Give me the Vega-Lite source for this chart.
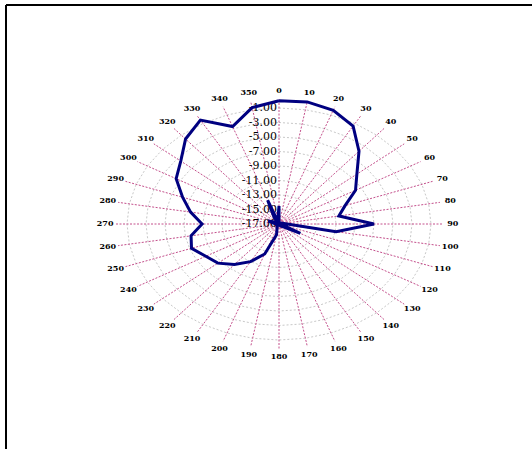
{
  "$schema": "https://vega.github.io/schema/vega-lite/v6.json",
  "width": 526,
  "height": 444,
  "autosize": {"type": "none"},
  "padding": {"left": 6, "top": 5, "right": 0, "bottom": 0},
  "background": "white",
  "config": {"view": {"stroke": null}},
  "datasets": {
    "pattern": [
      {"a": 0, "v": 0.0}, {"a": 10, "v": 0.1}, {"a": 20, "v": -0.3}, {"a": 30, "v": -1.4},
      {"a": 40, "v": -3.9}, {"a": 50, "v": -6.3}, {"a": 60, "v": -7.7}, {"a": 70, "v": -9.6},
      {"a": 80, "v": -10.6}, {"a": 90, "v": -7.0}, {"a": 100, "v": -10.9}, {"a": 110, "v": -18.2},
      {"a": 120, "v": -14.4}, {"a": 130, "v": -17.5}, {"a": 140, "v": -16.5}, {"a": 150, "v": -18.0},
      {"a": 160, "v": -20.5}, {"a": 170, "v": -17.0}, {"a": 180, "v": -19.5}, {"a": 190, "v": -15.5},
      {"a": 200, "v": -12.6}, {"a": 210, "v": -11.0}, {"a": 220, "v": -9.7}, {"a": 230, "v": -8.6},
      {"a": 240, "v": -8.1}, {"a": 250, "v": -7.2}, {"a": 260, "v": -7.6}, {"a": 270, "v": -8.9},
      {"a": 280, "v": -7.55}, {"a": 290, "v": -6.2}, {"a": 300, "v": -4.5}, {"a": 310, "v": -3.5},
      {"a": 320, "v": -1.7}, {"a": 330, "v": -0.45}, {"a": 340, "v": -2.7}, {"a": 350, "v": -0.7},
      {"a": 360, "v": 0.0}
    ],
    "rings": [
      {"v": -15, "a": [0,10,20,30,40,50,60,70,80,90,100,110,120,130,140,150,160,170,180,190,200,210,220,230,240,250,260,270,280,290,300,310,320,330,340,350,360]},
      {"v": -13, "a": [0,10,20,30,40,50,60,70,80,90,100,110,120,130,140,150,160,170,180,190,200,210,220,230,240,250,260,270,280,290,300,310,320,330,340,350,360]},
      {"v": -11, "a": [0,10,20,30,40,50,60,70,80,90,100,110,120,130,140,150,160,170,180,190,200,210,220,230,240,250,260,270,280,290,300,310,320,330,340,350,360]},
      {"v": -9, "a": [0,10,20,30,40,50,60,70,80,90,100,110,120,130,140,150,160,170,180,190,200,210,220,230,240,250,260,270,280,290,300,310,320,330,340,350,360]},
      {"v": -7, "a": [0,10,20,30,40,50,60,70,80,90,100,110,120,130,140,150,160,170,180,190,200,210,220,230,240,250,260,270,280,290,300,310,320,330,340,350,360]},
      {"v": -5, "a": [0,10,20,30,40,50,60,70,80,90,100,110,120,130,140,150,160,170,180,190,200,210,220,230,240,250,260,270,280,290,300,310,320,330,340,350,360]},
      {"v": -3, "a": [0,10,20,30,40,50,60,70,80,90,100,110,120,130,140,150,160,170,180,190,200,210,220,230,240,250,260,270,280,290,300,310,320,330,340,350,360]},
      {"v": -1, "a": [0,10,20,30,40,50,60,70,80,90,100,110,120,130,140,150,160,170,180,190,200,210,220,230,240,250,260,270,280,290,300,310,320,330,340,350,360]}
    ],
    "spokes": [
      {"a": 0}, {"a": 10}, {"a": 20}, {"a": 30}, {"a": 40}, {"a": 50}, {"a": 60}, {"a": 70}, {"a": 80},
      {"a": 90}, {"a": 100}, {"a": 110}, {"a": 120}, {"a": 130}, {"a": 140}, {"a": 150}, {"a": 160}, {"a": 170},
      {"a": 180}, {"a": 190}, {"a": 200}, {"a": 210}, {"a": 220}, {"a": 230}, {"a": 240}, {"a": 250}, {"a": 260},
      {"a": 270}, {"a": 280}, {"a": 290}, {"a": 300}, {"a": 310}, {"a": 320}, {"a": 330}, {"a": 340}, {"a": 350}
    ],
    "ticks": [
      {"v": -17, "t": "-17.00"}, {"v": -15, "t": "-15.00"}, {"v": -13, "t": "-13.00"}, {"v": -11, "t": "-11.00"},
      {"v": -9, "t": "-9.00"}, {"v": -7, "t": "-7.00"}, {"v": -5, "t": "-5.00"}, {"v": -3, "t": "-3.00"},
      {"v": -1, "t": "-1.00"}
    ]
  },
  "layer": [
    {
      "data": {"name": "rings"},
      "transform": [
        {"flatten": ["a"]},
        {"calculate": "(datum.v + 17) * sin(datum.a * PI / 180)", "as": "x"},
        {"calculate": "(datum.v + 17) * cos(datum.a * PI / 180)", "as": "y"}
      ],
      "mark": {"type": "line", "color": "#c8c8c8", "strokeWidth": 1, "strokeDash": [2, 2]},
      "encoding": {
        "x": {"field": "x", "type": "quantitative", "scale": {"domain": [-28.737, 26.631], "nice": false, "zero": false}, "axis": null},
        "y": {"field": "y", "type": "quantitative", "scale": {"domain": [-31.034, 30.207], "nice": false, "zero": false}, "axis": null},
        "detail": {"field": "v", "type": "nominal"},
        "order": {"field": "a", "type": "quantitative"}
      }
    },
    {
      "data": {"name": "spokes"},
      "transform": [
        {"calculate": "0", "as": "cx"},
        {"calculate": "0", "as": "cy"},
        {"calculate": "17.2 * sin(datum.a * PI / 180)", "as": "sx"},
        {"calculate": "17.2 * cos(datum.a * PI / 180)", "as": "sy"}
      ],
      "mark": {"type": "rule", "color": "#c4508c", "strokeWidth": 1, "strokeDash": [2, 1.5]},
      "encoding": {
        "x": {"field": "cx", "type": "quantitative"},
        "y": {"field": "cy", "type": "quantitative"},
        "x2": {"field": "sx"},
        "y2": {"field": "sy"}
      }
    },
    {
      "data": {"name": "ticks"},
      "transform": [
        {"calculate": "0", "as": "cx"},
        {"calculate": "datum.v + 17", "as": "y"}
      ],
      "mark": {"type": "text", "align": "right", "baseline": "middle", "dx": -2, "font": "DejaVu Serif", "fontSize": 11, "color": "black"},
      "encoding": {
        "x": {"field": "cx", "type": "quantitative"},
        "y": {"field": "y", "type": "quantitative"},
        "text": {"field": "t", "type": "nominal"}
      }
    },
    {
      "data": {"name": "spokes"},
      "transform": [
        {"calculate": "18.3 * sin(datum.a * PI / 180)", "as": "lx"},
        {"calculate": "18.3 * cos(datum.a * PI / 180)", "as": "ly"}
      ],
      "mark": {"type": "text", "align": "center", "baseline": "middle", "font": "DejaVu Serif", "fontSize": 8, "fontWeight": "bold", "color": "black"},
      "encoding": {
        "x": {"field": "lx", "type": "quantitative"},
        "y": {"field": "ly", "type": "quantitative"},
        "text": {"field": "a", "type": "nominal"}
      }
    },
    {
      "data": {"name": "pattern"},
      "transform": [
        {"calculate": "(datum.v + 17) * sin(datum.a * PI / 180)", "as": "x"},
        {"calculate": "(datum.v + 17) * cos(datum.a * PI / 180)", "as": "y"}
      ],
      "mark": {"type": "line", "color": "#000080", "strokeWidth": 3, "strokeJoin": "miter"},
      "encoding": {
        "x": {"field": "x", "type": "quantitative"},
        "y": {"field": "y", "type": "quantitative"},
        "order": {"field": "a", "type": "quantitative"}
      }
    },
    {
      "data": {"values": [{}]},
      "mark": {"type": "rule", "color": "black", "strokeWidth": 2},
      "encoding": {"y": {"datum": 30.207, "type": "quantitative"}}
    },
    {
      "data": {"values": [{}]},
      "mark": {"type": "rule", "color": "black", "strokeWidth": 2},
      "encoding": {"x": {"datum": -28.737, "type": "quantitative"}}
    }
  ]
}
